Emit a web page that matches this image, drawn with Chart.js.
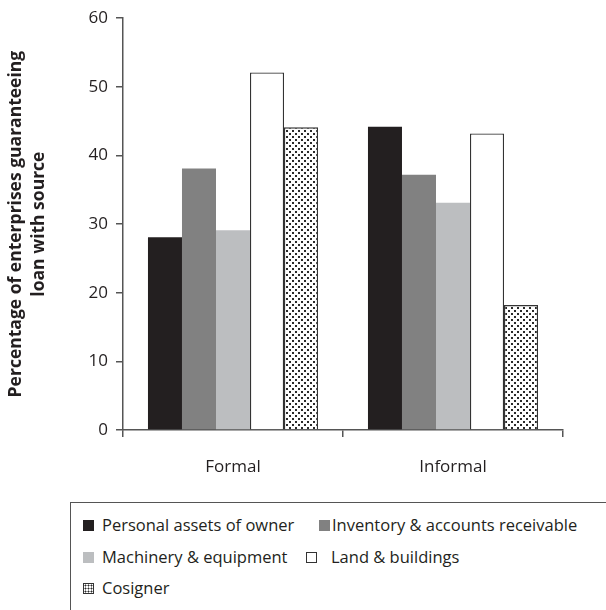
<!DOCTYPE html>
<html>
<head>
<meta charset="utf-8">
<script src="https://cdn.jsdelivr.net/npm/chart.js@4/dist/chart.umd.min.js"></script>
<style>
  html, body { margin: 0; padding: 0; background: #fff; }
  body { width: 606px; height: 610px; position: relative; overflow: hidden; font-family: "Open Sans", sans-serif; color: #231f20; }
  #wrap { position: absolute; left: 0; top: 0; width: 606px; height: 500px; }
  #legend { position: absolute; left: 70px; top: 502px; width: 560px; height: 130px; border: 1px solid #555; }
  .item { position: absolute; font-size: 16.5px; line-height: 22px; white-space: nowrap; }
  .sw { position: absolute; width: 11px; height: 11px; box-sizing: border-box; }
</style>
</head>
<body>
<div id="wrap"><canvas id="barChart" width="606" height="500"></canvas></div>
<div id="legend"></div>
<script>
// categories and series (percent of enterprises)
const categories = ['Formal', 'Informal'];
const seriesNames = [
  'Personal assets of owner',
  'Inventory & accounts receivable',
  'Machinery & equipment',
  'Land & buildings',
  'Cosigner'
];
const personalAssets = [28.1, 44.2];
const inventory = [38.1, 37.2];
const machinery = [29.1, 33.1];
const landBuildings = [52.1, 43.2];
const cosigner = [44.1, 18.2];
const yTicks = [0, 10, 20, 30, 40, 50, 60];

const INK = '#231f20';
const AXIS = '#555555';

// dotted fill used for the cosigner bars
function dotPattern() {
  const c = document.createElement('canvas');
  c.width = 6;
  c.height = 6;
  const g = c.getContext('2d');
  g.fillStyle = '#ffffff';
  g.fillRect(0, 0, 6, 6);
  g.fillStyle = '#2a2a2a';
  g.fillRect(1, 1, 2, 2);
  g.fillRect(4, 4, 2, 2);
  return g.createPattern(c, 'repeat');
}

const ctx = document.getElementById('barChart').getContext('2d');
const dots = dotPattern();

const fills = ['#231f20', '#818181', '#bcbec0', '#ffffff', dots];
const borders = [0, 0, 0, 1.3, 1.3];
const values = [personalAssets, inventory, machinery, landBuildings, cosigner];

new Chart(ctx, {
  type: 'bar',
  data: {
    labels: categories,
    datasets: seriesNames.map((name, i) => ({
      label: name,
      data: values[i],
      backgroundColor: fills[i],
      borderColor: '#333333',
      borderWidth: borders[i],
      categoryPercentage: 0.773,
      barPercentage: 1.0
    }))
  },
  options: {
    responsive: false,
    animation: false,
    layout: { padding: { top: 14, right: 43, left: 0, bottom: 0 } },
    plugins: {
      legend: { display: false },
      tooltip: { enabled: false }
    },
    scales: {
      x: {
        grid: { offset: true, drawOnChartArea: false, tickLength: 7, color: AXIS, lineWidth: 1.5 },
        border: { display: true, color: AXIS, width: 1.5 },
        ticks: { color: INK, padding: 20, font: { family: 'Open Sans', size: 17 } },
        afterFit: scale => { scale.height = 70; }
      },
      y: {
        min: 0,
        max: 60,
        afterBuildTicks: scale => { scale.ticks = yTicks.map(v => ({ value: v })); },
        grid: { drawOnChartArea: false, tickLength: 7, color: AXIS, lineWidth: 1.5 },
        border: { display: true, color: AXIS, width: 1.5 },
        ticks: { color: INK, padding: 8, font: { family: 'Open Sans', size: 17 } },
        title: {
          display: true,
          text: ['Percentage of enterprises guaranteeing', 'loan with source'],
          color: INK,
          padding: { top: 5, bottom: 0 },
          font: { family: 'Open Sans', size: 17.5, weight: 'bold', lineHeight: 1.3 }
        },
        afterFit: scale => { scale.width = 123; }
      }
    }
  }
});

// legend box below the chart
const legendRows = [
  { name: seriesNames[0], row: 0, box: 12, text: 31 },
  { name: seriesNames[1], row: 0, box: 248, text: 261 },
  { name: seriesNames[2], row: 1, box: 12, text: 31 },
  { name: seriesNames[3], row: 1, box: 235, text: 260 },
  { name: seriesNames[4], row: 2, box: 12, text: 31 }
];
const rowTops = [23, 55, 86];
const legend = document.getElementById('legend');
legendRows.forEach((it, i) => {
  const sw = document.createElement('div');
  sw.className = 'sw';
  sw.style.left = it.box + 'px';
  sw.style.top = (rowTops[it.row] - 6) + 'px';
  if (i === 3) {
    sw.style.border = '1px solid #333';
    sw.style.background = '#fff';
  } else if (i === 4) {
    sw.style.border = '1px solid #333';
    sw.style.background = 'radial-gradient(circle, #2a2a2a 0.9px, transparent 1.1px) 0 0 / 3px 3px, #fff';
  } else {
    sw.style.background = fills[i];
  }
  legend.appendChild(sw);
  const t = document.createElement('div');
  t.className = 'item';
  t.style.left = it.text + 'px';
  t.style.top = (rowTops[it.row] - 12) + 'px';
  t.textContent = it.name;
  legend.appendChild(t);
});
</script>
</body>
</html>
